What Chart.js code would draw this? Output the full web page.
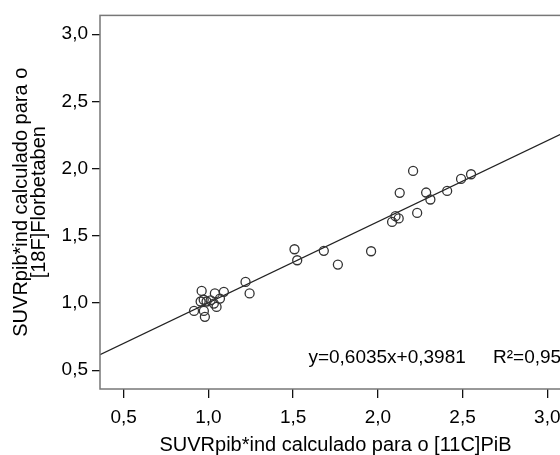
<!DOCTYPE html>
<html>
<head>
<meta charset="utf-8">
<script src="https://cdn.jsdelivr.net/npm/chart.js@4"></script>
<style>
  html, body { margin: 0; padding: 0; background: #fff; overflow: hidden; }
  #wrap { width: 600px; height: 455px; }
</style>
</head>
<body>
<div id="wrap"><canvas id="grafico" width="600" height="455"></canvas></div>
<script>
// valores
const xPiB = [0.915, 0.96, 0.979, 0.954, 0.972, 0.989, 1.013, 1.032, 1.038, 1.068, 1.091, 0.973, 1.048, 1.219, 1.243,
    1.508, 1.524, 1.681, 1.764, 1.96, 2.084, 2.104, 2.123, 2.129, 2.208, 2.232, 2.285, 2.31, 2.409, 2.491, 2.55]
const yFBB = [0.941, 1.09, 0.897, 1.011, 1.024, 1.011, 1.02, 0.996, 1.071, 1.033, 1.083, 0.941, 0.971, 1.157, 1.071,
    1.40, 1.318, 1.388, 1.286, 1.385, 1.603, 1.646, 1.629, 1.82, 1.983, 1.67, 1.822, 1.77, 1.834, 1.923, 1.958]

const inclinacao = 0.6035
const intercepto = 0.3981
const textoEquacao = 'y=0,6035x+0,3981'
const textoR2 = 'R²=0,95'

const eixoMin = 0.36
const eixoMax = 3.14

const pontos = xPiB.map((x, i) => ({ x: x, y: yFBB[i] }))
const linha = [
    { x: eixoMin, y: inclinacao * eixoMin + intercepto },
    { x: eixoMax, y: inclinacao * eixoMax + intercepto }
]

const fonte = 'Liberation Sans, Arial, sans-serif'
const formatar = v => v.toFixed(1).replace('.', ',')

// moldura e texto da equação
const moldura = {
    id: 'moldura',
    afterDraw(chart) {
        const { ctx, chartArea: a, scales } = chart
        ctx.save()
        ctx.strokeStyle = '#777'
        ctx.lineWidth = 1.5
        ctx.strokeRect(a.left, a.top, a.right - a.left, a.bottom - a.top)
        ctx.fillStyle = '#000'
        ctx.font = '19px ' + fonte
        ctx.textBaseline = 'middle'
        const yTxt = scales.y.getPixelForValue(0.595)
        ctx.fillText(textoEquacao, scales.x.getPixelForValue(1.59), yTxt)
        ctx.fillText(textoR2, scales.x.getPixelForValue(2.68), yTxt)
        ctx.restore()
    }
}

new Chart(document.getElementById('grafico'), {
    type: 'scatter',
    data: {
        datasets: [{
            label: 'Observado',
            data: pontos,
            pointRadius: 4.5,
            pointHoverRadius: 4.5,
            pointBackgroundColor: 'rgba(0,0,0,0)',
            pointBorderColor: '#333',
            pointBorderWidth: 1.3
        }, {
            type: 'line',
            label: 'Ajuste',
            data: linha,
            borderColor: '#222',
            borderWidth: 1.2,
            pointRadius: 0,
            fill: false
        }]
    },
    options: {
        responsive: false,
        animation: false,
        layout: { padding: { top: 15, right: 29, left: 0, bottom: 0 } },
        plugins: {
            legend: { display: false },
            tooltip: { enabled: false }
        },
        scales: {
            x: {
                type: 'linear',
                min: eixoMin,
                max: eixoMax,
                border: { display: false },
                grid: { drawOnChartArea: false, drawTicks: true, tickLength: 9, color: '#111', lineWidth: 1.3 },
                ticks: {
                    stepSize: 0.5,
                    includeBounds: false,
                    color: '#000',
                    padding: 8,
                    maxRotation: 0,
                    font: { family: fonte, size: 19 },
                    callback: v => formatar(v)
                },
                title: {
                    display: true,
                    text: 'SUVRpib*ind calculado para o [11C]PiB',
                    color: '#000',
                    font: { family: fonte, size: 20, lineHeight: 1.0 },
                    padding: { top: 10, bottom: 0 }
                },
                afterFit(scale) { scale.height = 66 }
            },
            y: {
                type: 'linear',
                min: eixoMin,
                max: eixoMax,
                border: { display: false },
                grid: { drawOnChartArea: false, drawTicks: true, tickLength: 8, color: '#111', lineWidth: 1.3 },
                ticks: {
                    stepSize: 0.5,
                    includeBounds: false,
                    color: '#000',
                    padding: 4,
                    font: { family: fonte, size: 19 },
                    callback: v => formatar(v)
                },
                title: {
                    display: true,
                    text: ['SUVRpib*ind calculado para o', '[18F]Florbetaben'],
                    color: '#000',
                    font: { family: fonte, size: 20, lineHeight: 0.9 },
                    padding: { top: 12, bottom: 0 }
                },
                afterFit(scale) { scale.width = 100 }
            }
        }
    },
    plugins: [moldura]
})
</script>
</body>
</html>
